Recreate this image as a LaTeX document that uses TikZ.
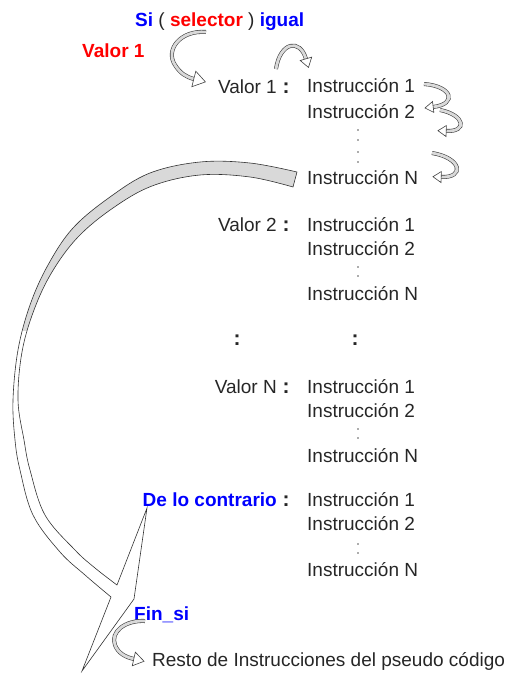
\documentclass[tikz,border=0pt]{standalone}
\usepackage{fontspec}
\setmainfont{Liberation Sans}
\usetikzlibrary{decorations.markings}
\begin{document}
\begin{tikzpicture}[x=1pt,y=-1pt,
  txt/.style={font=\fontsize{19}{23}\selectfont, text=black!85, inner sep=0pt},
  bluetxt/.style={font=\fontsize{19}{23}\selectfont\bfseries, text=blue, inner sep=0pt},
  redtxt/.style={font=\fontsize{19}{23}\selectfont\bfseries, text=red, inner sep=0pt},
  coltxt/.style={font=\fontsize{21}{23}\selectfont\bfseries, text=black!85, inner sep=0pt, anchor=base},
  tinydot/.style={fill=black!65},
  carrow/.style={draw=black!75, line width=0.6pt, double=gray!30, double distance=2.8pt,
    postaction={decorate, decoration={markings, mark=at position -0.2pt with {
      \draw[black!75, line width=0.6pt, fill=white] (0pt,#1pt) -- ({1.5*#1*1pt},0pt) -- (0pt,-#1pt) -- cycle;}}}},
  carrow/.default=6,
  bandline/.style={draw=black!80, line width=0.6pt}
]
\useasboundingbox (0,0) rectangle (509,675);

% ---- big curved band with arrowhead ----
\def\bandpath{plot[smooth, tension=0.6] coordinates {(297,172) (250,163) (200,162) (150,173) (110,197) (73,228) (48,265) (30,305) (18,350) (13,400) (15,440) (20,470) (33,515) (60,552) (85,575) (111,597)}
  -- (82,671) -- (134,599) -- (147,508)
  -- plot[smooth, tension=0.6] coordinates {(117,585) (95,568) (75,550) (45,515) (30,470) (24,440) (18,400) (22,352) (34,310) (52,272) (78,237) (113,208) (152,186) (200,175) (250,177) (293,187)} -- cycle}
\fill[white] \bandpath;
\begin{scope}
  \clip (0,0) rectangle (509,330);
  \fill[gray!30] \bandpath;
\end{scope}
\draw[bandline, line join=miter] \bandpath;

% ---- header ----
\node[txt, anchor=base west] (si) at (135,26) {\textcolor{blue}{\bfseries Si} ( \textcolor{red}{\bfseries selector} ) \textcolor{blue}{\bfseries igual}};
\node[redtxt, anchor=base west] (v1red) at (82,57) {Valor 1};

% ---- group 1 ----
\node[txt, anchor=base east] (v1) at (277,93) {Valor 1};
\node[coltxt] (c1) at (286,93) {:};
\node[txt, anchor=base west] (g1a) at (307,92) {Instrucción 1};
\node[txt, anchor=base west] (g1b) at (307,118) {Instrucción 2};
\node[txt, anchor=base west] (g1n) at (307,184) {Instrucción N};
\foreach \yy in {130,140,152,162} \fill[tinydot] (358,\yy) circle (0.85);

% ---- group 2 ----
\node[txt, anchor=base east] (v2) at (277,231) {Valor 2};
\node[coltxt] (c2) at (286,231) {:};
\node[txt, anchor=base west] (g2a) at (307,231) {Instrucción 1};
\node[txt, anchor=base west] (g2b) at (307,255) {Instrucción 2};
\node[txt, anchor=base west] (g2n) at (307,300) {Instrucción N};
\foreach \yy in {267,276} \fill[tinydot] (358,\yy) circle (0.85);

% ---- big colons ----
\node[coltxt] (bc1) at (237,345) {:};
\node[coltxt] (bc2) at (355,345) {:};

% ---- group N ----
\node[txt, anchor=base east] (vn) at (277,393) {Valor N};
\node[coltxt] (cn) at (286,393) {:};
\node[txt, anchor=base west] (gna) at (307,393) {Instrucción 1};
\node[txt, anchor=base west] (gnb) at (307,417) {Instrucción 2};
\node[txt, anchor=base west] (gnn) at (307,462) {Instrucción N};
\foreach \yy in {429,438} \fill[tinydot] (358,\yy) circle (0.85);

% ---- de lo contrario ----
\node[bluetxt, anchor=base east] (dlc) at (277,506) {De lo contrario};
\node[coltxt] (cd) at (286,506) {:};
\node[txt, anchor=base west] (gda) at (307,506) {Instrucción 1};
\node[txt, anchor=base west] (gdb) at (307,530) {Instrucción 2};
\node[txt, anchor=base west] (gdn) at (307,576) {Instrucción N};
\foreach \yy in {544,553} \fill[tinydot] (358,\yy) circle (0.85);

% ---- fin ----
\node[bluetxt, anchor=base west] (fin) at (134,620) {Fin\_si};
\node[txt, anchor=base west] (resto) at (152,666) {Resto de Instrucciones del pseudo código};

% ---- small curved arrows ----
\draw[carrow=8] (206,32) .. controls (180,30) and (165,50) .. (175,65) .. controls (180,73) and (186,77) .. (194,79);
\draw[carrow=6] (276,69) .. controls (280,42) and (300,38) .. (306,59);
\draw[carrow=5.5] (424,84) .. controls (452,86) and (458,104) .. (433,107);
\draw[carrow=5.5] (440,110) .. controls (465,115) and (468,132) .. (446,131);
\draw[carrow=5.5] (432,153) .. controls (462,158) and (465,178) .. (441,177);
\draw[carrow=7] (145,621) .. controls (125,620) and (110,632) .. (115,645) .. controls (118,653) and (125,657) .. (134,659);
\end{tikzpicture}
\end{document}
